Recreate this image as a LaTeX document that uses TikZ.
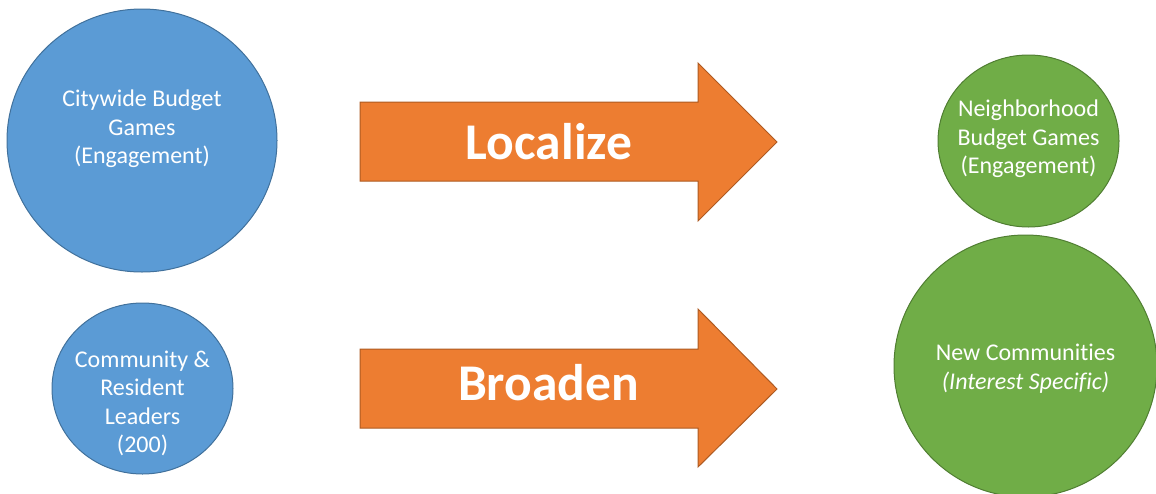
\documentclass[tikz,border=0pt]{standalone}
\usepackage{fontspec}
\setmainfont{Carlito}[Ligatures={NoCommon,NoRequired,NoContextual}]
\usetikzlibrary{shapes.geometric}
\definecolor{bluefill}{HTML}{5B9BD5}
\definecolor{blueline}{HTML}{41719C}
\definecolor{orangefill}{HTML}{ED7D31}
\definecolor{orangeline}{HTML}{AE5A21}
\definecolor{greenfill}{HTML}{70AD47}
\definecolor{greenline}{HTML}{507E32}
\tikzset{
  bluecirc/.style={ellipse, fill=bluefill, draw=blueline, line width=1pt, inner sep=0pt},
  greencirc/.style={ellipse, fill=greenfill, draw=greenline, line width=1pt, inner sep=0pt},
  arrowshape/.style={fill=orangefill, draw=orangeline, line width=1pt, line join=miter},
  circtext/.style={text=white, align=center, inner sep=0pt, font=\fontsize{24}{28.6}\selectfont},
  arrowtext/.style={text=white, inner sep=0pt, font=\fontsize{51.5}{60}\selectfont\bfseries}
}
\begin{document}
\begin{tikzpicture}[x=1pt,y=-1pt]
\useasboundingbox (0,0) rectangle (1156,493);
% circles
\node[bluecirc, minimum width=270pt, minimum height=263pt] (cw) at (142,140.5) {};
\node[bluecirc, minimum width=181pt, minimum height=171pt] (cl) at (142.5,388.5) {};
\node[greencirc, minimum width=181pt, minimum height=172pt] (nb) at (1028.5,141) {};
\node[greencirc, minimum width=263pt, minimum height=262pt] (nc) at (1025.5,366) {};
% circle texts
\node[circtext] (cwt) at (142,129) {Citywide Budget\\Games\\(Engagement)};
\node[circtext] (clt) at (142.5,403.5) {Community \&\\Resident\\Leaders\\(200)};
\node[circtext] (nbt) at (1028.5,139) {Neighborhood\\Budget Games\\(Engagement)};
\node[circtext] (nct) at (1025.5,368.5) {New Communities\\\textit{(Interest Specific)}};
% arrows
\draw[arrowshape] (360,102) -- (698,102) -- (698,63) -- (777,142) -- (698,221) -- (698,181) -- (360,181) -- cycle;
\draw[arrowshape] (360,349) -- (698,349) -- (698,309) -- (777,389) -- (698,467) -- (698,428) -- (360,428) -- cycle;
\node[arrowtext, anchor=base] (loc) at (549,159) {Localize};
\node[arrowtext, anchor=base] (bro) at (548.5,400) {Broaden};
\end{tikzpicture}
\end{document}
